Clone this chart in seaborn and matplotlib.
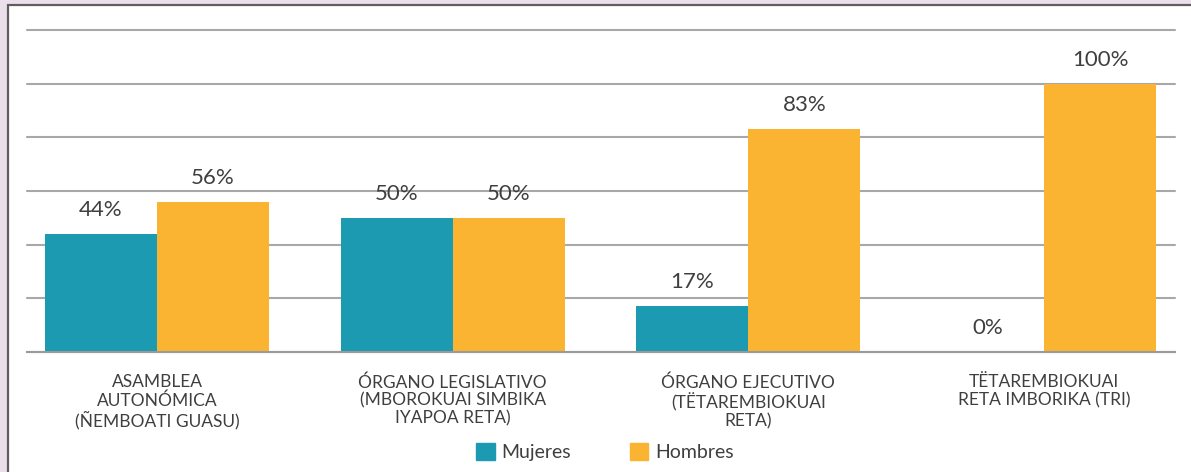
import pandas as pd
import numpy as np
import matplotlib.pyplot as plt
import seaborn as sns
from matplotlib.patches import Rectangle

# Data
categorias = [
    "ASAMBLEA\nAUTONÓMICA\n(ÑEMBOATI GUASU)",
    "ÓRGANO LEGISLATIVO\n(MBOROKUAI SIMBIKA\nIYAPOA RETA)",
    "ÓRGANO EJECUTIVO\n(TËTAREMBIOKUAI\nRETA)",
    "TËTAREMBIOKUAI\nRETA IMBORIKA (TRI)",
]
mujeres = [44, 50, 17, 0]
hombres = [56, 50, 83, 100]
series = ["Mujeres", "Hombres"]
colores = ["#1C9AB1", "#FBB431"]

df = pd.DataFrame({
    "cat": categorias * 2,
    "valor": mujeres + hombres,
    "sexo": [series[0]] * len(categorias) + [series[1]] * len(categorias),
})

sns.set_theme(style="white")
plt.rcParams["font.family"] = ["Lato", "DejaVu Sans"]
TXT = "#3F3F3F"

W, H = 1191, 472
fig = plt.figure(figsize=(W / 100, H / 100), dpi=100)
fig.patch.set_facecolor("#ECDFEC")

# white panel with a dark edge on top and left
fig.patches.append(Rectangle((7.5 / W, -0.1), 1.2, (H - 5) / H + 0.1,
                             transform=fig.transFigure, facecolor="white",
                             edgecolor="#5E5E5E", linewidth=1.6, zorder=-10))

ax = fig.add_axes([27 / W, (H - 352) / H, (1175 - 27) / W, (352 - 30) / H])
ax.set_facecolor("none")

sns.barplot(data=df, x="cat", y="valor", hue="sexo", palette=colores,
            width=0.758, saturation=1, linewidth=0, ax=ax, legend=False, zorder=3)

ax.set_xlim(-0.4397, 3.443)
ax.set_ylim(0, 120)
ax.set_yticks(np.arange(0, 121, 20))
ax.yaxis.grid(True, color="#A8A8A8", linewidth=1.5, zorder=0)
ax.xaxis.grid(False)
ax.tick_params(axis="y", left=False, labelleft=False)
ax.tick_params(axis="x", bottom=False, pad=10, labelsize=12.5, colors=TXT)
for lbl in ax.get_xticklabels():
    lbl.set_linespacing(1.15)
    lbl.set_color(TXT)
ax.set_xlabel("")
ax.set_ylabel("")
for s in ["top", "right", "left"]:
    ax.spines[s].set_visible(False)
ax.spines["bottom"].set_color("#9A9A9A")
ax.spines["bottom"].set_linewidth(1.5)
ax.spines["bottom"].set_zorder(4)
for line in ax.get_ygridlines():
    line.set_clip_on(False)

# value labels above each bar
for cont in ax.containers:
    ax.bar_label(cont, labels=[f"{v:.0f}%" for v in cont.datavalues],
                 padding=10, fontsize=16, color=TXT)

handles = [Rectangle((0, 0), 1, 1, color=c) for c in colores]
fig.legend(handles, series, loc="center", bbox_to_anchor=(605 / W, (H - 452) / H),
           ncol=2, frameon=False, fontsize=14, handlelength=0.95, handleheight=0.95,
           handletextpad=0.35, columnspacing=3.0, labelcolor=TXT)

fig.savefig("out.png", dpi=100, facecolor=fig.get_facecolor())
